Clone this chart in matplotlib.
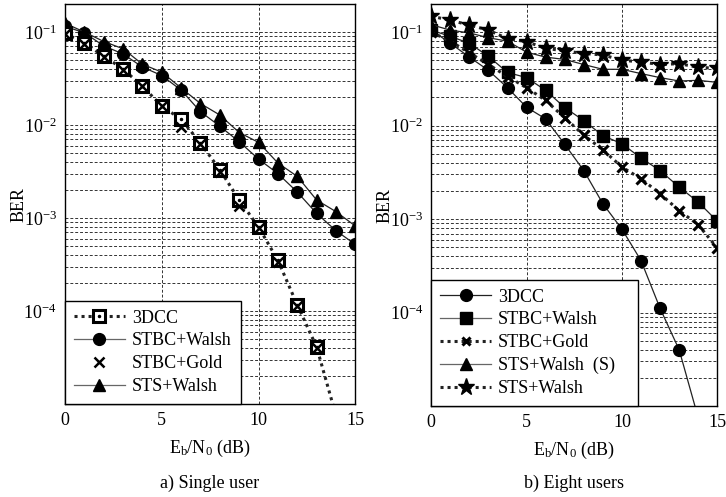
import numpy as np
import matplotlib
matplotlib.use("Agg")
import matplotlib.pyplot as plt
from matplotlib.ticker import LogLocator, NullFormatter, FixedLocator
from matplotlib.lines import Line2D

plt.rcParams['font.family'] = ['Liberation Serif', 'DejaVu Serif']
plt.rcParams['mathtext.fontset'] = 'stix'
plt.rcParams['font.size'] = 13

# ---- a) single user ----
x_a = np.arange(0, 16)
a_3dcc = [0.097, 0.076, 0.055, 0.040, 0.026, 0.016, 0.0115, 0.0064, 0.0033,
          0.00156, 0.00080, 0.00035, 0.000116, 0.000041, 0.0000075]
a_gold = [0.095, 0.075, 0.054, 0.039, 0.026, 0.016, 0.0095, 0.0063, 0.0031,
          0.00134, 0.00079, 0.00034, 0.000112, 0.000040]
a_stbc_walsh = [0.115, 0.098, 0.071, 0.058, 0.042, 0.034, 0.0237, 0.0139, 0.0097,
                0.0066, 0.0043, 0.0030, 0.0019, 0.00112, 0.00073, 0.00052]
a_sts_walsh = [0.124, 0.100, 0.079, 0.066, 0.045, 0.037, 0.025, 0.017, 0.0128,
               0.0083, 0.0065, 0.0039, 0.0028, 0.00156, 0.00117, 0.00082]

# ---- b) eight users ----
x_b = np.arange(0, 16)
b_3dcc = [0.105, 0.076, 0.054, 0.039, 0.0254, 0.0157, 0.0118, 0.0063, 0.0033,
          0.00146, 0.00078, 0.00036, 0.000111, 0.000040, 0.0000075]
b_stbc_walsh = [0.105, 0.090, 0.076, 0.055, 0.037, 0.0326, 0.0238, 0.0156, 0.0113,
                0.0078, 0.0064, 0.0045, 0.0033, 0.0022, 0.00152, 0.00095]
b_stbc_gold = [0.100, 0.080, 0.060, 0.045, 0.0335, 0.0254, 0.0186, 0.0121, 0.0079,
               0.0055, 0.0036, 0.0027, 0.00187, 0.00123, 0.00087, 0.00049]
b_sts_walsh_s = [0.120, 0.105, 0.098, 0.087, 0.080, 0.061, 0.054, 0.051, 0.045,
                 0.040, 0.040, 0.036, 0.0326, 0.030, 0.0305, 0.029]
b_sts_walsh = [0.148, 0.134, 0.119, 0.105, 0.085, 0.079, 0.067, 0.063, 0.059,
               0.057, 0.050, 0.048, 0.045, 0.046, 0.042, 0.041]

ytick_vals = [1e-4, 1e-3, 1e-2, 1e-1]
ytick_labels = [r'$\mathregular{10^{-4}}$', r'$\mathregular{10^{-3}}$',
                r'$\mathregular{10^{-2}}$', r'$\mathregular{10^{-1}}$']
xtick_vals = [0, 5, 10, 15]

fig = plt.figure(figsize=(7.26, 4.97), dpi=100)
ax1 = fig.add_axes([0.0895, 0.187, 0.400, 0.805])
ax2 = fig.add_axes([0.594, 0.183, 0.394, 0.809])

solid = dict(color='#222222', lw=0.9)
dotted = dict(color='#222222', lw=2.2, ls=(0, (1, 1.3)))
grid_kw = dict(color='#333333', lw=0.7, ls=(0, (3, 2)))


def style(ax):
    ax.set_yscale('log')
    ax.set_xlim(0, 15)
    ax.set_ylim(1e-5, 2e-1)
    ax.yaxis.set_major_locator(FixedLocator(ytick_vals))
    ax.set_yticklabels(ytick_labels)
    ax.yaxis.set_minor_locator(LogLocator(base=10, subs=np.arange(2, 10)))
    ax.yaxis.set_minor_formatter(NullFormatter())
    ax.set_xticks(xtick_vals)
    ax.tick_params(which='both', length=0, labelsize=13, pad=6)
    ax.grid(True, which='major', axis='both', **grid_kw)
    ax.grid(True, which='minor', axis='y', **grid_kw)
    ax.set_axisbelow(True)
    for s in ax.spines.values():
        s.set_linewidth(1.0)
        s.set_color('black')
    ax.set_xlabel(r'$\mathregular{E_b/N_0}$ (dB)', fontsize=13, labelpad=6)
    ax.set_ylabel('BER', fontsize=13, labelpad=-3)


leg_kw = dict(loc='lower left', borderaxespad=0, fancybox=False,
              edgecolor='black', framealpha=1, fontsize=13,
              handlelength=2.8, handletextpad=0.4, labelspacing=0.32,
              borderpad=0.5)

# panel a
style(ax1)
ax1.plot(x_a, a_stbc_walsh, marker='o', ms=8.5, mfc='black', mec='black', **solid)
ax1.plot(x_a, a_sts_walsh, marker='^', ms=9, mfc='black', mec='black', **solid)
ax1.plot(x_a[:len(a_3dcc)], a_3dcc, marker='s', ms=8, mfc='white', mec='black',
         mew=2.2, **dotted)
ax1.plot(x_a[:len(a_gold)], a_gold, ls='none', marker='x', ms=7, mec='black', mew=1.8)
ax1.plot(x_a[:len(a_3dcc)], a_3dcc, ls='none', marker='.', ms=3, color='black')

h_3dcc = (Line2D([], [], marker='s', ms=8, mfc='white', mec='black', mew=2.2, **dotted),
          Line2D([], [], ls='none', marker='.', ms=3, color='black'))
h_walsh = Line2D([], [], marker='o', ms=8.5, mfc='black', mec='black', color='#666666', lw=0.9)
h_gold = Line2D([], [], ls='none', marker='x', ms=7, mec='black', mew=1.8)
h_sts = Line2D([], [], marker='^', ms=9, mfc='black', mec='black', color='#666666', lw=0.9)
leg1 = ax1.legend([h_3dcc, h_walsh, h_gold, h_sts],
                  ['3DCC', 'STBC+Walsh', 'STBC+Gold', 'STS+Walsh'], **leg_kw)
leg1.get_frame().set_linewidth(1.0)

# panel b
style(ax2)
ax2.plot(x_b[:len(b_3dcc)], b_3dcc, marker='o', ms=8.5, mfc='black', mec='black', **solid)
ax2.plot(x_b, b_stbc_walsh, marker='s', ms=8, mfc='black', mec='black', **solid)
ax2.plot(x_b, b_stbc_gold, marker='x', ms=7, mec='black', mew=2.2, **dotted)
ax2.plot(x_b, b_sts_walsh_s, marker='^', ms=9, mfc='black', mec='black', **solid)
ax2.plot(x_b, b_sts_walsh, marker='*', ms=12.5, mfc='black', mec='black', **dotted)

hb = [Line2D([], [], marker='o', ms=8.5, mfc='black', mec='black', color='#222222', lw=0.9),
      Line2D([], [], marker='s', ms=8, mfc='black', mec='black', color='#666666', lw=0.9),
      Line2D([], [], marker='x', ms=6, mec='black', mew=2.2, **dotted),
      Line2D([], [], marker='^', ms=9, mfc='black', mec='black', color='#666666', lw=0.9),
      Line2D([], [], marker='*', ms=12.5, mfc='black', mec='black', **dotted)]
leg2 = ax2.legend(hb, ['3DCC', 'STBC+Walsh', 'STBC+Gold', 'STS+Walsh  (S)   ', 'STS+Walsh'],
                  **leg_kw)
leg2.get_frame().set_linewidth(1.0)

fig.text(0.289, 0.028, 'a) Single user', ha='center', va='center', fontsize=13)
fig.text(0.791, 0.028, 'b) Eight users', ha='center', va='center', fontsize=13)

fig.savefig('out.png', dpi=100)
